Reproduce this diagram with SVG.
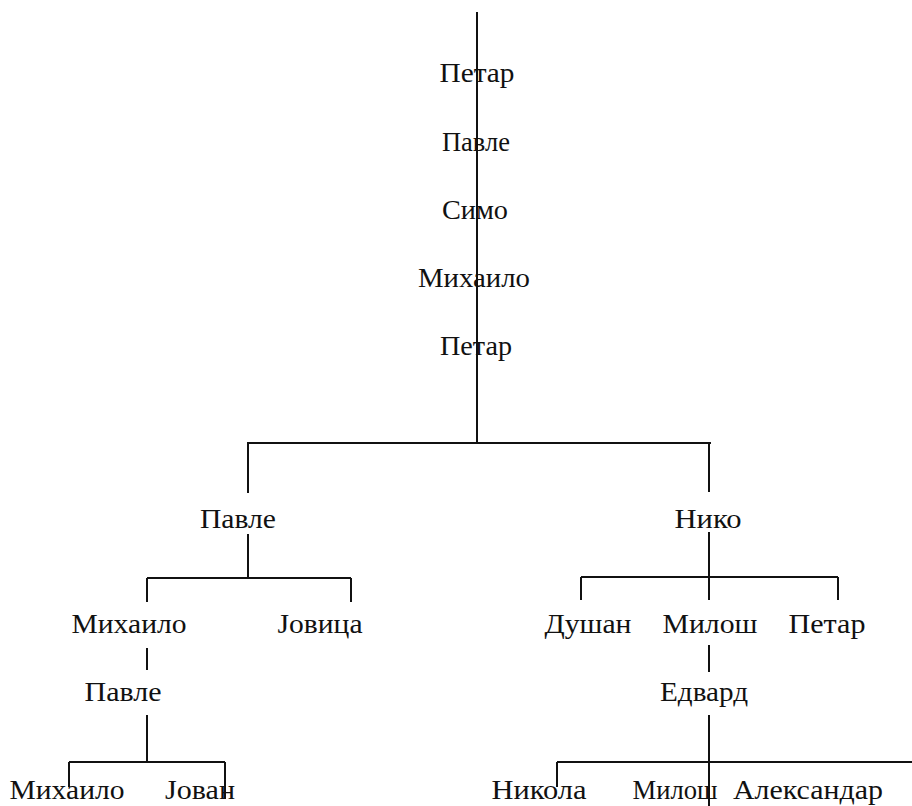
<svg xmlns="http://www.w3.org/2000/svg" width="912" height="806" viewBox="0 0 912 806">
<style>
.c{stroke:#111;stroke-width:2;fill:none}
text{font-family:"Liberation Serif","Times New Roman",serif;font-size:28px;fill:#111;text-anchor:middle}
</style>
<rect width="912" height="806" fill="#fff"/>
<g id="connectors" class="c">
<path d="M477 12V443"/>
<path d="M247 443H711"/>
<path d="M248 443V493"/>
<path d="M709 443V492"/>
<path d="M248 534V578M147 578H351M147 578V602M351 578V602"/>
<path d="M147 648V670"/>
<path d="M147 715V762M69 762H225M69 762V787M225 762V799"/>
<path d="M709 532V577M581 577H838M581 577V600M709 577V600M838 577V600"/>
<path d="M709 645V672"/>
<path d="M709 715V806M557 762H912M557 762V787"/>
</g>
<g id="n1"><text x="477" y="82" textLength="75" lengthAdjust="spacingAndGlyphs">Петар</text></g>
<g id="n2"><text x="476" y="151" textLength="68" lengthAdjust="spacingAndGlyphs">Павле</text></g>
<g id="n3"><text x="475" y="219" textLength="66" lengthAdjust="spacingAndGlyphs">Симо</text></g>
<g id="n4"><text x="474" y="287" textLength="112" lengthAdjust="spacingAndGlyphs">Михаило</text></g>
<g id="n5"><text x="476" y="355" textLength="72" lengthAdjust="spacingAndGlyphs">Петар</text></g>
<g id="n6"><text x="238" y="528" textLength="76" lengthAdjust="spacingAndGlyphs">Павле</text></g>
<g id="n7"><text x="708" y="528" textLength="67" lengthAdjust="spacingAndGlyphs">Нико</text></g>
<g id="n8"><text x="129" y="633" textLength="115" lengthAdjust="spacingAndGlyphs">Михаило</text></g>
<g id="n9"><text x="320" y="633" textLength="85" lengthAdjust="spacingAndGlyphs">Јовица</text></g>
<g id="n10"><text x="588" y="633" textLength="87" lengthAdjust="spacingAndGlyphs">Душан</text></g>
<g id="n11"><text x="710" y="633" textLength="95" lengthAdjust="spacingAndGlyphs">Милош</text></g>
<g id="n12"><text x="827" y="633" textLength="77" lengthAdjust="spacingAndGlyphs">Петар</text></g>
<g id="n13"><text x="123" y="701" textLength="77" lengthAdjust="spacingAndGlyphs">Павле</text></g>
<g id="n14"><text x="704" y="701" textLength="88" lengthAdjust="spacingAndGlyphs">Едвард</text></g>
<g id="n15"><text x="67" y="799" textLength="115" lengthAdjust="spacingAndGlyphs">Михаило</text></g>
<g id="n16"><text x="200" y="799" textLength="70" lengthAdjust="spacingAndGlyphs">Јован</text></g>
<g id="n17"><text x="539" y="799" textLength="95" lengthAdjust="spacingAndGlyphs">Никола</text></g>
<g id="n18"><text x="675" y="799" textLength="85" lengthAdjust="spacingAndGlyphs">Милош</text></g>
<g id="n19"><text x="808" y="799" textLength="150" lengthAdjust="spacingAndGlyphs">Александар</text></g>
</svg>
